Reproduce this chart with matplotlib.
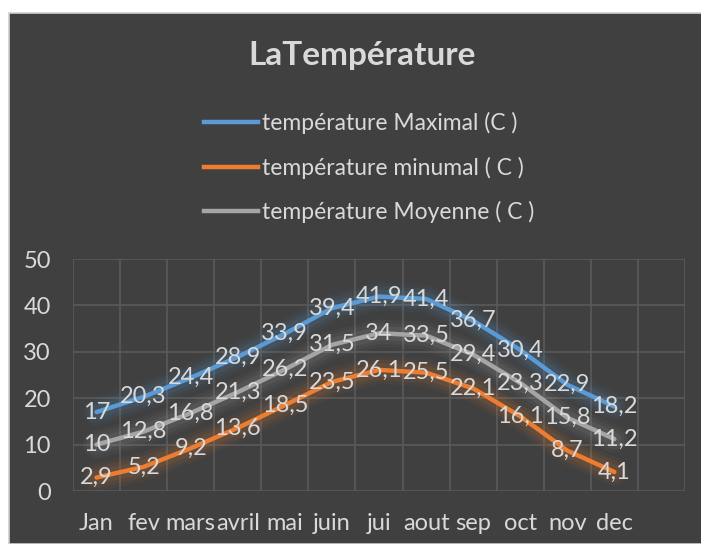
import matplotlib
matplotlib.use("Agg")
import matplotlib.pyplot as plt
from matplotlib.lines import Line2D
from matplotlib.patches import Rectangle

plt.rcParams["font.family"] = ["Lato", "DejaVu Sans"]

months = ["Jan", "fev", "mars", "avril", "mai", "juin", "jui", "aout", "sep", "oct", "nov", "dec"]
t_max = [17, 20.3, 24.4, 28.9, 33.9, 39.4, 41.9, 41.4, 36.7, 30.4, 22.9, 18.2]
t_min = [2.9, 5.2, 9.2, 13.6, 18.5, 23.5, 26.1, 25.5, 22.1, 16.1, 8.7, 4.1]
t_moy = [10, 12.8, 16.8, 21.3, 26.2, 31.5, 34, 33.5, 29.4, 23.3, 15.8, 11.2]
series_names = ["température Maximal (C )", "température minumal ( C )", "température Moyenne ( C )"]

BG = "#404040"
TXT = "#d9d9d9"
GRID = "#5a5a5a"
colors = ["#5b9bd5", "#ed7d31", "#a5a5a5"]

fig = plt.figure(figsize=(7.01, 5.44), dpi=100)
fig.patch.set_facecolor("white")
# dark chart panel with thin light border
fig.patches.append(Rectangle((9 / 701, 0), 1, 1 - 13 / 544, transform=fig.transFigure,
                             facecolor=BG, edgecolor="#d0d0d0", lw=1.2, zorder=-10))

ax = fig.add_axes([73 / 701, 1 - 491 / 544, (685 - 73) / 701, (491 - 259) / 544])
ax.patch.set_alpha(0)

x = list(range(len(months)))
for vals, c in zip([t_max, t_min, t_moy], colors):
    # soft glow under each line
    for lw, a in [(20, 0.05), (15, 0.07), (10, 0.1)]:
        ax.plot(x, vals, color=c, lw=lw, alpha=a, solid_capstyle="round",
                solid_joinstyle="round", zorder=2)
for vals, c, name in zip([t_max, t_min, t_moy], colors, series_names):
    ax.plot(x, vals, color=c, lw=3.2, solid_capstyle="round", solid_joinstyle="round",
            zorder=3, label=name)
    for xi, v in zip(x, vals):
        lab = f"{v:g}".replace(".", ",")
        ax.text(xi, v, lab, ha="center", va="center", color=TXT, fontsize=17, zorder=4)

ax.set_xlim(-0.5, 12.5)
ax.set_ylim(0, 50)
ax.set_yticks(range(0, 51, 10))
ax.set_xticks(x)
ax.set_xticklabels(months)
ax.grid(False)
for yv in range(0, 51, 10):
    ax.axhline(yv, color=GRID, lw=1.2, zorder=1)
for xv in [i - 0.5 for i in range(14)]:
    ax.axvline(xv, color=GRID, lw=1.2, zorder=1)
ax.tick_params(axis="both", which="both", length=0, colors=TXT, labelsize=17)
ax.tick_params(axis="y", pad=16)
ax.tick_params(axis="x", pad=16)
for s in ax.spines.values():
    s.set_visible(False)

fig.text(362 / 701, 1 - 56 / 544, "LaTempérature", ha="center", va="center",
         color=TXT, fontsize=24, fontweight="bold")

handles = [Line2D([], [], color=c, lw=3.2) for c in colors]
fig.legend(handles, series_names, loc="upper left", bbox_to_anchor=(204 / 701, 1 - 112 / 544),
           frameon=False, fontsize=16.5, labelcolor=TXT, handlelength=2.35,
           handletextpad=0.18, labelspacing=0.98, borderpad=0, borderaxespad=0)

fig.savefig("out.png", dpi=100, facecolor=fig.get_facecolor())
